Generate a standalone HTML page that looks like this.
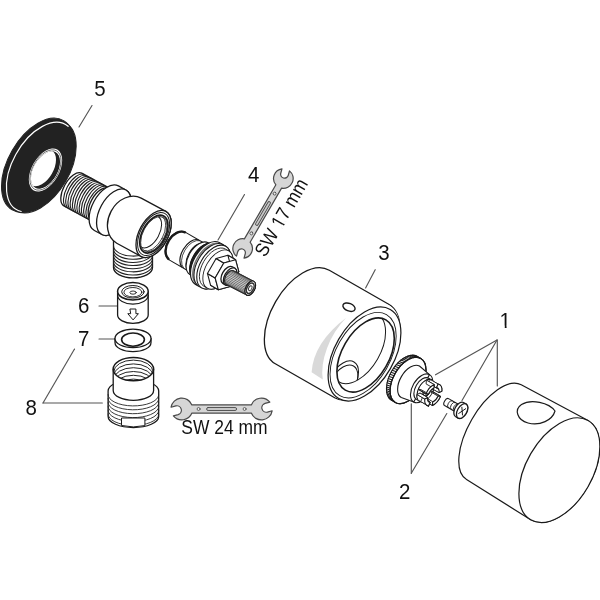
<!DOCTYPE html>
<html><head><meta charset="utf-8"><title>Exploded view</title>
<style>
html,body{margin:0;padding:0;background:#fff;}
body{width:600px;height:600px;overflow:hidden;}
svg{display:block;font-family:"Liberation Sans",Arial,sans-serif;}
svg text{fill:#111;}
svg{filter:grayscale(1);}
</style></head><body>
<svg width="600" height="600" viewBox="0 0 600 600" stroke-linecap="round" stroke-linejoin="round">
<rect width="600" height="600" fill="#fff"/>
<g transform="translate(100 95.5) scale(0.915 1)"><text font-size="22.4" text-anchor="middle" >5</text></g>
<line x1="92" y1="105.5" x2="79" y2="127" stroke="#555" stroke-width="1.15"/>
<g transform="translate(253.7 182.3) scale(0.915 1)"><text font-size="22.4" text-anchor="middle" >4</text></g>
<line x1="244.5" y1="194.5" x2="218" y2="240" stroke="#555" stroke-width="1.15"/>
<g transform="translate(384 260) scale(0.915 1)"><text font-size="22.4" text-anchor="middle" >3</text></g>
<line x1="375.2" y1="269.7" x2="365.6" y2="288" stroke="#555" stroke-width="1.15"/>
<g transform="translate(505.3 328) scale(0.915 1)"><text font-size="22.4" text-anchor="middle" >1</text><rect x="-4.88" y="-2.27" width="4.29" height="2.87" fill="#fff"/><rect x="1.39" y="-2.27" width="4.26" height="2.87" fill="#fff"/></g>
<line x1="497" y1="340" x2="435.5" y2="374.8" stroke="#555" stroke-width="1.15"/>
<line x1="497" y1="340" x2="462" y2="400.5" stroke="#555" stroke-width="1.15"/>
<line x1="497.3" y1="340" x2="497.3" y2="386" stroke="#555" stroke-width="1.15"/>
<g transform="translate(404.7 499.2) scale(0.915 1)"><text font-size="22.4" text-anchor="middle" >2</text></g>
<line x1="411.3" y1="473.3" x2="411.3" y2="403.8" stroke="#555" stroke-width="1.15"/>
<line x1="411.3" y1="473.3" x2="446.8" y2="413.5" stroke="#555" stroke-width="1.15"/>
<g transform="translate(83.6 313) scale(0.915 1)"><text font-size="22.4" text-anchor="middle" >6</text></g>
<line x1="99" y1="306" x2="117.5" y2="306" stroke="#555" stroke-width="1.15"/>
<g transform="translate(83.6 346.3) scale(0.915 1)"><text font-size="22.4" text-anchor="middle" >7</text></g>
<line x1="99" y1="339" x2="115" y2="339" stroke="#555" stroke-width="1.15"/>
<g transform="translate(31.3 414.5) scale(0.915 1)"><text font-size="22.4" text-anchor="middle" >8</text></g>
<line x1="43" y1="403" x2="102.3" y2="403" stroke="#555" stroke-width="1.15"/>
<line x1="43" y1="403" x2="74.5" y2="349" stroke="#555" stroke-width="1.15"/>
<ellipse cx="37.9" cy="165.25" rx="29.72" ry="51.5" transform="rotate(30 37.9 165.25)" fill="#222" stroke="#222" stroke-width="1" />
<ellipse cx="40.5" cy="166.75" rx="29.14" ry="50.5" transform="rotate(30 40.5 166.75)" fill="#222" stroke="#222" stroke-width="1" />
<path d="M68.13 126.32 A28.33 49.1 30 1 0 21.23 211.46 " fill="none" stroke="#fff" stroke-width="1.2"/>
<ellipse cx="45.5" cy="170" rx="13.62" ry="23.6" transform="rotate(30 45.5 170)" fill="#fff" stroke="none" stroke-width="0" />
<ellipse cx="45.5" cy="170" rx="12.75" ry="22.1" transform="rotate(30 45.5 170)" fill="none" stroke="#555" stroke-width="0.8" />
<clipPath id="hclip"><ellipse cx="45.5" cy="170" rx="11.89" ry="20.6" transform="rotate(30 45.5 170)"/></clipPath>
<g clip-path="url(#hclip)">
<ellipse cx="45.5" cy="170" rx="12.12" ry="21" transform="rotate(30 45.5 170)" fill="#222" stroke="none" stroke-width="0" />
<ellipse cx="41.86" cy="167.9" rx="11.54" ry="20" transform="rotate(30 41.86 167.9)" fill="#fff" stroke="none" stroke-width="0" />
</g>
<path d="M109.84 188.37 L81.69 173.15 A9.35 18.7 28.4 0 0 63.91 206.05 L92.05 221.27 A10.47 18.7 28.4 0 0 109.84 188.37 Z" fill="#fff" stroke="#1a1a1a" stroke-width="1.3" />
<ellipse cx="100.95" cy="204.82" rx="10.47" ry="18.7" transform="rotate(28.4 100.95 204.82)" fill="#fff" stroke="#1a1a1a" stroke-width="1.3" />
<path d="M84.17 174.5 A9.35 18.7 28.4 0 0 66.4 207.38 " fill="none" stroke="#222" stroke-width="1.15"/>
<path d="M86.42 175.72 A9.35 18.7 28.4 0 0 68.64 208.6 " fill="none" stroke="#222" stroke-width="1.15"/>
<path d="M88.66 176.93 A9.35 18.7 28.4 0 0 70.88 209.81 " fill="none" stroke="#222" stroke-width="1.15"/>
<path d="M90.9 178.14 A9.35 18.7 28.4 0 0 73.12 211.02 " fill="none" stroke="#222" stroke-width="1.15"/>
<path d="M93.15 179.35 A9.35 18.7 28.4 0 0 75.37 212.23 " fill="none" stroke="#222" stroke-width="1.15"/>
<path d="M95.39 180.57 A9.35 18.7 28.4 0 0 77.61 213.45 " fill="none" stroke="#222" stroke-width="1.15"/>
<path d="M97.63 181.78 A9.35 18.7 28.4 0 0 79.85 214.66 " fill="none" stroke="#222" stroke-width="1.15"/>
<path d="M99.87 182.99 A9.35 18.7 28.4 0 0 82.1 215.87 " fill="none" stroke="#222" stroke-width="1.15"/>
<path d="M102.12 184.21 A9.35 18.7 28.4 0 0 84.34 217.09 " fill="none" stroke="#222" stroke-width="1.15"/>
<path d="M104.36 185.42 A9.35 18.7 28.4 0 0 86.58 218.3 " fill="none" stroke="#222" stroke-width="1.15"/>
<path d="M106.6 186.63 A9.35 18.7 28.4 0 0 88.83 219.51 " fill="none" stroke="#222" stroke-width="1.15"/>
<path d="M125.91 189.99 L118.43 185.94 A14.17 25.3 28.4 0 0 94.37 230.46 L101.84 234.5 A14.17 25.3 28.4 0 0 125.91 189.99 Z" fill="#fff" stroke="#1a1a1a" stroke-width="1.3" />
<ellipse cx="113.88" cy="212.24" rx="14.17" ry="25.3" transform="rotate(28.4 113.88 212.24)" fill="#fff" stroke="#1a1a1a" stroke-width="1.3" />
<path d="M113.5 240 L113.5 267.6 A19.5 10.3 0 0 0 152.5 267.6 L152.5 240 Z" fill="#fff" stroke="#1a1a1a" stroke-width="1.3" />
<path d="M113.5 245.5 A19.5 10.3 0 0 0 152.5 246.1" fill="none" stroke="#222" stroke-width="1.05" />
<path d="M113.5 248.65 A19.5 10.3 0 0 0 152.5 249.25" fill="none" stroke="#222" stroke-width="1.05" />
<path d="M113.5 251.8 A19.5 10.3 0 0 0 152.5 252.4" fill="none" stroke="#222" stroke-width="1.05" />
<path d="M113.5 254.95 A19.5 10.3 0 0 0 152.5 255.54999999999998" fill="none" stroke="#222" stroke-width="1.05" />
<path d="M113.5 258.1 A19.5 10.3 0 0 0 152.5 258.70000000000005" fill="none" stroke="#222" stroke-width="1.05" />
<path d="M113.5 261.25 A19.5 10.3 0 0 0 152.5 261.85" fill="none" stroke="#222" stroke-width="1.05" />
<path d="M113.5 264.4 A19.5 10.3 0 0 0 152.5 265.0" fill="none" stroke="#222" stroke-width="1.05" />
<path d="M165.82 211.39 L141.19 198.08 A20.56 25.7 28.4 0 0 116.75 243.29 L141.38 256.61 A14.39 25.7 28.4 0 0 165.82 211.39 Z" fill="#fff" stroke="#1a1a1a" stroke-width="1.3" />
<ellipse cx="153.6" cy="234" rx="14.39" ry="25.7" transform="rotate(28.4 153.6 234)" fill="#fff" stroke="#1a1a1a" stroke-width="1.3" />
<ellipse cx="153.6" cy="234" rx="13.1" ry="23.4" transform="rotate(28.4 153.6 234)" fill="none" stroke="#1a1a1a" stroke-width="1" />
<ellipse cx="153.86" cy="234.14" rx="11.54" ry="20.6" transform="rotate(28.4 153.86 234.14)" fill="none" stroke="#1a1a1a" stroke-width="1.7" />
<ellipse cx="153.86" cy="234.14" rx="10.75" ry="19.2" transform="rotate(28.4 153.86 234.14)" fill="none" stroke="#1a1a1a" stroke-width="0.7" />
<clipPath id="bclip"><ellipse cx="153.86" cy="234.14" rx="10.75" ry="19.2" transform="rotate(28.4 153.86 234.14)"/></clipPath>
<g clip-path="url(#bclip)">
<ellipse cx="149.64" cy="231.86" rx="9.8" ry="17.5" transform="rotate(28.4 149.64 231.86)" fill="none" stroke="#1a1a1a" stroke-width="1" />
<ellipse cx="152.54" cy="233.43" rx="10.75" ry="19.2" transform="rotate(28.4 152.54 233.43)" fill="none" stroke="#1a1a1a" stroke-width="0.7" />
</g>
<path d="M205.25 243.74 L185.59 232.39 A10.88 16 30 0 0 169.59 260.11 L189.25 271.46 A9.23 16 30 0 0 205.25 243.74 Z" fill="#fff" stroke="#1a1a1a" stroke-width="1.1" />
<ellipse cx="197.25" cy="257.6" rx="9.23" ry="16" transform="rotate(30 197.25 257.6)" fill="#fff" stroke="#1a1a1a" stroke-width="1.1" />
<path d="M185 232.33 A10.74 15.8 30 0 0 168.37 258.89 " fill="none" stroke="#1a1a1a" stroke-width="2.4"/>
<path d="M198 239.74 A9.23 16 30 0 0 181.92 266.94 " fill="none" stroke="#1a1a1a" stroke-width="1.2"/>
<path d="M199.56 240.64 A9.23 16 30 0 0 183.48 267.84 " fill="none" stroke="#1a1a1a" stroke-width="0.8"/>
<rect x="202.05" y="245.01" width="6" height="2.8" rx="0.8" fill="#fff" stroke="#1a1a1a" stroke-width="1.1" transform="rotate(30 205.05 246.41)"/>
<rect x="187.94" y="268.62" width="6" height="2.8" rx="0.8" fill="#fff" stroke="#1a1a1a" stroke-width="1.1" transform="rotate(30 190.94 270.02)"/>
<path d="M211.17 244.5 L208.13 242.75 A10.56 18.3 30 0 0 189.83 274.45 L192.87 276.2 A10.56 18.3 30 0 0 211.17 244.5 Z" fill="#fff" stroke="#1a1a1a" stroke-width="1.1" />
<path d="M215.71 245.63 L213.11 244.13 A11.31 19.6 30 0 0 193.51 278.07 L196.11 279.57 A11.31 19.6 30 0 0 215.71 245.63 Z" fill="#fff" stroke="#1a1a1a" stroke-width="1.1" />
<path d="M213.22 244.59 A11.14 19.3 30 0 0 193.37 277.43 " fill="none" stroke="#1a1a1a" stroke-width="2.8"/>
<path d="M222.24 244.32 L219.21 242.57 A13.85 24 30 0 0 195.21 284.13 L198.24 285.88 A13.85 24 30 0 0 222.24 244.32 Z" fill="#fff" stroke="#1a1a1a" stroke-width="1.2" />
<path d="M219.08 243.67 A13.39 23.2 30 0 0 195.77 283.12 " fill="none" stroke="#777" stroke-width="1.6"/>
<path d="M225.71 246.32 L222.68 244.57 A13.85 24 30 0 0 198.68 286.13 L201.71 287.88 A13.85 24 30 0 0 225.71 246.32 Z" fill="#fff" stroke="#1a1a1a" stroke-width="1.1" />
<ellipse cx="213.71" cy="267.1" rx="13.85" ry="24" transform="rotate(30 213.71 267.1)" fill="#fff" stroke="#1a1a1a" stroke-width="1.1" />
<path d="M228.79 250.98 L225.32 248.98 A12.41 21.5 30 0 0 203.82 286.22 L207.29 288.22 A12.41 21.5 30 0 0 228.79 250.98 Z" fill="#fff" stroke="#1a1a1a" stroke-width="0.9" />
<ellipse cx="218.04" cy="269.6" rx="12.41" ry="21.5" transform="rotate(30 218.04 269.6)" fill="#fff" stroke="#1a1a1a" stroke-width="0.9" />
<path d="M222.41 282.11 L210.6 285.28 L218.31 289.73 L230.12 286.56Z" fill="#fff" stroke="#1a1a1a" stroke-width="1.1" />
<path d="M210.6 285.28 L207.44 273.47 L215.15 277.92 L218.31 289.73Z" fill="#fff" stroke="#1a1a1a" stroke-width="1.1" />
<path d="M207.44 273.47 L216.09 258.49 L223.8 262.94 L215.15 277.92Z" fill="#fff" stroke="#1a1a1a" stroke-width="1.1" />
<path d="M216.09 258.49 L227.9 255.32 L235.61 259.77 L223.8 262.94Z" fill="#fff" stroke="#1a1a1a" stroke-width="1.1" />
<path d="M227.9 255.32 L231.06 267.13 L238.77 271.58 L235.61 259.77Z" fill="#fff" stroke="#1a1a1a" stroke-width="1.1" />
<path d="M231.06 267.13 L222.41 282.11 L230.12 286.56 L238.77 271.58Z" fill="#fff" stroke="#1a1a1a" stroke-width="1.1" />
<path d="M230.12 286.56 L218.31 289.73 L215.15 277.92 L223.8 262.94 L235.61 259.77 L238.77 271.58Z" fill="#fff" stroke="#1a1a1a" stroke-width="1.1" />
<path d="M234.96 268.29 L232.36 266.79 A5.54 9.6 30 0 0 222.76 283.41 L225.36 284.91 A5.54 9.6 30 0 0 234.96 268.29 Z" fill="#fff" stroke="#1a1a1a" stroke-width="1.3" />
<ellipse cx="230.16" cy="276.6" rx="5.54" ry="9.6" transform="rotate(30 230.16 276.6)" fill="#fff" stroke="#1a1a1a" stroke-width="1.3" />
<path d="M253.81 281.37 L233.41 270.75 A4.44 7.7 27.5 0 0 226.3 284.41 L246.7 295.03 A4.44 7.7 27.5 0 0 253.81 281.37 Z" fill="#ddd" stroke="#1a1a1a" stroke-width="1.1" />
<ellipse cx="250.25" cy="288.2" rx="4.44" ry="7.7" transform="rotate(27.5 250.25 288.2)" fill="#fff" stroke="#1a1a1a" stroke-width="1.1" />
<line x1="225.9" y1="284.16" x2="246.31" y2="294.78" stroke="#333" stroke-width="0.65"/>
<line x1="225.25" y1="283.44" x2="245.65" y2="294.06" stroke="#333" stroke-width="0.65"/>
<line x1="224.8" y1="282.47" x2="245.2" y2="293.09" stroke="#333" stroke-width="0.65"/>
<line x1="224.57" y1="281.28" x2="244.97" y2="291.9" stroke="#333" stroke-width="0.65"/>
<line x1="224.57" y1="279.93" x2="244.98" y2="290.55" stroke="#333" stroke-width="0.65"/>
<line x1="224.81" y1="278.48" x2="245.21" y2="289.1" stroke="#333" stroke-width="0.65"/>
<line x1="225.26" y1="276.99" x2="245.66" y2="287.61" stroke="#333" stroke-width="0.65"/>
<line x1="225.91" y1="275.53" x2="246.31" y2="286.15" stroke="#333" stroke-width="0.65"/>
<line x1="226.74" y1="274.15" x2="247.14" y2="284.77" stroke="#333" stroke-width="0.65"/>
<line x1="227.7" y1="272.93" x2="248.1" y2="283.55" stroke="#333" stroke-width="0.65"/>
<line x1="228.75" y1="271.91" x2="249.15" y2="282.53" stroke="#333" stroke-width="0.65"/>
<line x1="229.86" y1="271.13" x2="250.26" y2="281.75" stroke="#333" stroke-width="0.65"/>
<line x1="230.96" y1="270.64" x2="251.36" y2="281.26" stroke="#333" stroke-width="0.65"/>
<line x1="232.02" y1="270.45" x2="252.42" y2="281.07" stroke="#333" stroke-width="0.65"/>
<line x1="232.98" y1="270.57" x2="253.38" y2="281.19" stroke="#333" stroke-width="0.65"/>
<ellipse cx="250.25" cy="288.2" rx="4.44" ry="7.7" transform="rotate(27.5 250.25 288.2)" fill="#fff" stroke="#1a1a1a" stroke-width="1.1" />
<ellipse cx="250.25" cy="288.2" rx="3.23" ry="5.6" transform="rotate(27.5 250.25 288.2)" fill="#fff" stroke="#333" stroke-width="1.6" />
<ellipse cx="250.25" cy="288.2" rx="1.5" ry="2.6" transform="rotate(27.5 250.25 288.2)" fill="#fff" stroke="#333" stroke-width="0.9" />
<path d="M117.60000000000001 291.3 L117.60000000000001 315 A15.3 8.3 0 0 0 148.20000000000002 315 L148.20000000000002 291.3 Z" fill="#fff" stroke="#1a1a1a" stroke-width="1.3" />
<path d="M117.6 295.3 A15.3 8.8 0 0 0 148.2 295.3" fill="none" stroke="#1a1a1a" stroke-width="1.1" />
<ellipse cx="132.9" cy="291.3" rx="15.3" ry="8.8" fill="#fff" stroke="#1a1a1a" stroke-width="1.5"/>
<ellipse cx="132.9" cy="291.8" rx="11.2" ry="6.3" fill="#fff" stroke="#1a1a1a" stroke-width="1.0"/>
<ellipse cx="132.9" cy="292.2" rx="9" ry="4.7" fill="#fff" stroke="#1a1a1a" stroke-width="0.9"/>
<ellipse cx="133.1" cy="292.6" rx="3.2" ry="1.6" fill="#fff" stroke="#1a1a1a" stroke-width="0.9"/>
<path d="M130.3 309 h5.6 v4.7 h2.5 l-5.3 6.2 l-5.3 -6.2 h2.5 Z" fill="none" stroke="#1a1a1a" stroke-width="1.0" />
<path d="M115 338.4 v4 A18 9.3 0 0 0 151 342.4 v-4 Z" fill="#fff" stroke="#1a1a1a" stroke-width="1.3" />
<ellipse cx="133" cy="338.4" rx="18" ry="9.3" fill="#fff" stroke="#1a1a1a" stroke-width="1.3"/>
<ellipse cx="133" cy="339.6" rx="11.4" ry="6.6" fill="#fff" stroke="#1a1a1a" stroke-width="1.6"/>
<path d="M108.10000000000001 391 L108.10000000000001 416.5 A25.3 11 0 0 0 158.70000000000002 416.5 L158.70000000000002 391 A25.3 11 0 0 0 108.10000000000001 391 Z" fill="#fff" stroke="#1a1a1a" stroke-width="1.3" />
<path d="M108.1 394.5 A25.3 11 0 0 0 158.7 395.3" fill="none" stroke="#222" stroke-width="0.9" />
<path d="M108.1 398.4 A25.3 11 0 0 0 158.7 399.2" fill="none" stroke="#222" stroke-width="0.9" />
<path d="M108.1 402.3 A25.3 11 0 0 0 158.7 403.1" fill="none" stroke="#222" stroke-width="0.9" />
<path d="M108.1 406.2 A25.3 11 0 0 0 158.7 407" fill="none" stroke="#222" stroke-width="0.9" />
<path d="M108.1 410.1 A25.3 11 0 0 0 158.7 410.9" fill="none" stroke="#222" stroke-width="0.9" />
<path d="M108.1 414 A25.3 11 0 0 0 158.7 414.8" fill="none" stroke="#222" stroke-width="0.9" />
<path d="M121.9 418 L144.9 418 L144.9 425.6 Q133.4 428.3 121.9 425.6 Z" fill="#fff" stroke="#1a1a1a" stroke-width="1"/>
<path d="M113.2 369.1 L113.2 390.5 A20.2 9.8 0 0 0 153.6 390.5 L153.6 369.1 Z" fill="#fff" stroke="#1a1a1a" stroke-width="1.3" />
<ellipse cx="133.4" cy="369.1" rx="20.2" ry="11.7" fill="#fff" stroke="#1a1a1a" stroke-width="1.5"/>
<clipPath id="nclip"><ellipse cx="133.4" cy="369.1" rx="19.6" ry="11.1"/></clipPath>
<g clip-path="url(#nclip)">
<path d="M113.8 371.4 A19.6 11.3 0 0 1 153 371.4" fill="none" stroke="#222" stroke-width="1.0" />
<path d="M113.8 375.2 A19.6 11.3 0 0 1 153 375.2" fill="none" stroke="#222" stroke-width="1.0" />
<path d="M113.8 379 A19.6 11.3 0 0 1 153 379" fill="none" stroke="#222" stroke-width="1.0" />
<path d="M113.8 382.8 A19.6 11.3 0 0 1 153 382.8" fill="none" stroke="#222" stroke-width="1.0" />
<path d="M113.8 386.6 A19.6 11.3 0 0 1 153 386.6" fill="none" stroke="#222" stroke-width="1.0" />
<path d="M113.8 390.4 A19.6 11.3 0 0 1 153 390.4" fill="none" stroke="#222" stroke-width="1.0" />
</g>
<g transform="translate(221.6 409) rotate(0)" stroke="#4a4a4a" stroke-width="1.2" fill="#d6d6d6">
<path d="M0 -4.1 L-29.7 -4.1 A10.9 10.9 0 0 0 -50.55 -1.78 L-45.79 -3.05 A4.5 4.5 0 0 1 -43.46 5.64 L-48.22 6.92 A10.9 10.9 0 0 0 -29.7 4.1 L29.7 4.1 A10.9 10.9 0 0 0 50.55 1.78 L45.79 3.05 A4.5 4.5 0 0 1 43.46 -5.64 L48.22 -6.92 A10.9 10.9 0 0 0 29.7 -4.1 Z"/>
<rect x="-15" y="-1.5" width="30" height="3.0" rx="1.5" fill="#c8c8c8" stroke-width="0.9"/>
<circle cx="-23" cy="0" r="1.5" fill="#eee" stroke-width="0.8"/>
<circle cx="23" cy="0" r="1.5" fill="#eee" stroke-width="0.8"/>
</g>
<g transform="translate(181.3 433.7) scale(0.9 1)"><text font-size="19.4" text-anchor="start" >SW 24 mm</text></g>
<g transform="translate(263.0 213.5) rotate(-59.8)" stroke="#4a4a4a" stroke-width="1.2" fill="#d6d6d6">
<path d="M0 -3.3 L-31.27 -3.3 A9.8 9.8 0 0 0 -50.19 -1.44 L-45.76 -2.63 A3.9 3.9 0 0 1 -43.74 4.91 L-48.17 6.09 A9.8 9.8 0 0 0 -31.27 3.3 L31.27 3.3 A9.8 9.8 0 0 0 50.19 1.44 L45.76 2.63 A3.9 3.9 0 0 1 43.74 -4.91 L48.17 -6.09 A9.8 9.8 0 0 0 31.27 -3.3 Z"/>
<rect x="-13.5" y="-1.3" width="27.0" height="2.6" rx="1.3" fill="#c8c8c8" stroke-width="0.9"/>
<circle cx="-23" cy="0" r="1.5" fill="#eee" stroke-width="0.8"/>
<circle cx="23" cy="0" r="1.5" fill="#eee" stroke-width="0.8"/>
</g>
<g transform="translate(265.3 258) rotate(-60) scale(0.9 1)"><text font-size="19.4" text-anchor="start" >SW 17 mm</text><rect x="37.81" y="-2.05" width="3.72" height="2.65" fill="#fff"/><rect x="43.24" y="-2.05" width="3.69" height="2.65" fill="#fff"/></g>
<path d="M388.7 304.23 L329.3 270.23 A30.78 54 30 0 0 275.3 363.77 L334.7 397.77 A31.16 54 30 0 0 388.7 304.23 Z" fill="#fff" stroke="#1a1a1a" stroke-width="1.3" />
<ellipse cx="362.74" cy="351.6" rx="30.7" ry="53.2" transform="rotate(30 362.74 351.6)" fill="#fff" stroke="none" stroke-width="0" />
<ellipse cx="364.5" cy="354" rx="29.72" ry="51.5" transform="rotate(30 364.5 354)" fill="#fff" stroke="#1a1a1a" stroke-width="1.2" />
<path d="M346.11 317.64 A31.16 54 30 0 0 322.81 379.62 L311.6 372.2 Q313.5 342.5 346.11 317.64 Z" fill="#d9d9d9" stroke="none" stroke-width="0" />
<ellipse cx="349" cy="307.2" rx="6.4" ry="3.8" fill="#fff" stroke="#1a1a1a" stroke-width="1.4" transform="rotate(22 349 307.2)"/>
<ellipse cx="363.1" cy="355.2" rx="27" ry="46.8" transform="rotate(30 363.1 355.2)" fill="none" stroke="#1a1a1a" stroke-width="0.9" />
<ellipse cx="365.6" cy="355" rx="23.43" ry="40.6" transform="rotate(30 365.6 355)" fill="none" stroke="#1a1a1a" stroke-width="1.6" />
<clipPath id="sclip"><ellipse cx="365.6" cy="355" rx="23.2" ry="40.2" transform="rotate(30 365.6 355)"/></clipPath>
<clipPath id="sclip2"><ellipse cx="358" cy="348" rx="22.5" ry="39" transform="rotate(30 358 348)"/></clipPath>
<g clip-path="url(#sclip)">
<ellipse cx="358" cy="348" rx="22.5" ry="39" transform="rotate(30 358 348)" fill="none" stroke="#1a1a1a" stroke-width="1.0" />
<g clip-path="url(#sclip2)">
<ellipse cx="343" cy="381" rx="12.69" ry="22" transform="rotate(30 343 381)" fill="none" stroke="#1a1a1a" stroke-width="1.0" />
<ellipse cx="343" cy="384.2" rx="12.12" ry="21" transform="rotate(30 343 384.2)" fill="none" stroke="#1a1a1a" stroke-width="1.0" />
</g></g>
<path d="M420.77 358.37 L417.05 356.22 A14.71 25.5 30 0 0 391.55 400.38 L395.27 402.53 A14.71 25.5 30 0 0 420.77 358.37 Z" fill="#fff" stroke="#1a1a1a" stroke-width="1.1" />
<ellipse cx="408.02" cy="380.45" rx="14.71" ry="25.5" transform="rotate(30 408.02 380.45)" fill="#fff" stroke="#1a1a1a" stroke-width="1.1" />
<path d="M391.22 399.94 L394.63 401.63" fill="none" stroke="#1a1a1a" stroke-width="1.05" />
<path d="M390.15 399.11 L393.61 400.73" fill="none" stroke="#1a1a1a" stroke-width="1.05" />
<path d="M389.2 398.09 L392.72 399.66" fill="none" stroke="#1a1a1a" stroke-width="1.05" />
<path d="M388.38 396.91 L391.95 398.42" fill="none" stroke="#1a1a1a" stroke-width="1.05" />
<path d="M387.69 395.56 L391.33 397.04" fill="none" stroke="#1a1a1a" stroke-width="1.05" />
<path d="M387.15 394.07 L390.84 395.5" fill="none" stroke="#1a1a1a" stroke-width="1.05" />
<path d="M386.76 392.45 L390.51 393.84" fill="none" stroke="#1a1a1a" stroke-width="1.05" />
<path d="M386.51 390.7 L390.32 392.07" fill="none" stroke="#1a1a1a" stroke-width="1.05" />
<path d="M386.42 388.85 L390.29 390.2" fill="none" stroke="#1a1a1a" stroke-width="1.05" />
<path d="M386.48 386.9 L390.4 388.24" fill="none" stroke="#1a1a1a" stroke-width="1.05" />
<path d="M386.69 384.89 L390.67 386.22" fill="none" stroke="#1a1a1a" stroke-width="1.05" />
<path d="M387.05 382.82 L391.09 384.14" fill="none" stroke="#1a1a1a" stroke-width="1.05" />
<path d="M387.56 380.7 L391.65 382.04" fill="none" stroke="#1a1a1a" stroke-width="1.05" />
<path d="M388.21 378.57 L392.35 379.92" fill="none" stroke="#1a1a1a" stroke-width="1.05" />
<path d="M389.01 376.44 L393.18 377.81" fill="none" stroke="#1a1a1a" stroke-width="1.05" />
<path d="M389.93 374.32 L394.14 375.72" fill="none" stroke="#1a1a1a" stroke-width="1.05" />
<path d="M390.97 372.24 L395.22 373.67" fill="none" stroke="#1a1a1a" stroke-width="1.05" />
<path d="M392.13 370.2 L396.41 371.67" fill="none" stroke="#1a1a1a" stroke-width="1.05" />
<path d="M393.39 368.24 L397.7 369.76" fill="none" stroke="#1a1a1a" stroke-width="1.05" />
<path d="M394.75 366.36 L399.08 367.93" fill="none" stroke="#1a1a1a" stroke-width="1.05" />
<path d="M396.19 364.59 L400.53 366.21" fill="none" stroke="#1a1a1a" stroke-width="1.05" />
<path d="M397.69 362.93 L402.05 364.61" fill="none" stroke="#1a1a1a" stroke-width="1.05" />
<path d="M399.26 361.4 L403.62 363.15" fill="none" stroke="#1a1a1a" stroke-width="1.05" />
<path d="M400.86 360.02 L405.22 361.84" fill="none" stroke="#1a1a1a" stroke-width="1.05" />
<path d="M402.5 358.8 L406.85 360.68" fill="none" stroke="#1a1a1a" stroke-width="1.05" />
<path d="M404.15 357.74 L408.49 359.7" fill="none" stroke="#1a1a1a" stroke-width="1.05" />
<path d="M405.8 356.85 L410.13 358.89" fill="none" stroke="#1a1a1a" stroke-width="1.05" />
<path d="M407.44 356.15 L411.75 358.27" fill="none" stroke="#1a1a1a" stroke-width="1.05" />
<path d="M409.05 355.64 L413.33 357.83" fill="none" stroke="#1a1a1a" stroke-width="1.05" />
<path d="M410.63 355.33 L414.88 357.59" fill="none" stroke="#1a1a1a" stroke-width="1.05" />
<path d="M412.14 355.21 L416.36 357.55" fill="none" stroke="#1a1a1a" stroke-width="1.05" />
<path d="M413.6 355.28 L417.77 357.7" fill="none" stroke="#1a1a1a" stroke-width="1.05" />
<path d="M414.97 355.56 L419.1 358.04" fill="none" stroke="#1a1a1a" stroke-width="1.05" />
<path d="M416.25 356.03 L420.33 358.58" fill="none" stroke="#1a1a1a" stroke-width="1.05" />
<ellipse cx="408.02" cy="380.45" rx="14.6" ry="25.3" transform="rotate(30 408.02 380.45)" fill="none" stroke="#1a1a1a" stroke-width="1.1" />
<path d="M429.52 374.62 L419.46 366.04 A10.5 18.2 30 0 0 401.26 397.56 L413.72 401.98 Z" fill="#fff" stroke="#1a1a1a" stroke-width="1.1" />
<ellipse cx="421.62" cy="388.3" rx="9.12" ry="15.8" transform="rotate(30 421.62 388.3)" fill="none" stroke="#1a1a1a" stroke-width="1.1" />
<path d="M431.62 379.98 L428.59 378.23 A7.04 12.2 30 0 0 416.39 399.37 L419.42 401.12 A7.04 12.2 30 0 0 431.62 379.98 Z" fill="#fff" stroke="#1a1a1a" stroke-width="1.1" />
<ellipse cx="425.52" cy="390.55" rx="7.04" ry="12.2" transform="rotate(30 425.52 390.55)" fill="#fff" stroke="#1a1a1a" stroke-width="1.1" />
<ellipse cx="426.82" cy="391.3" rx="3" ry="5.2" transform="rotate(30 426.82 391.3)" fill="none" stroke="#1a1a1a" stroke-width="1.6" />
<ellipse cx="426.82" cy="391.3" rx="1.73" ry="3" transform="rotate(30 426.82 391.3)" fill="none" stroke="#1a1a1a" stroke-width="0.9" />
<path d="M430.32 391.52 A4.73 8.2 30 0 1 424.91 397.56 L432.7 402.06 A4.73 8.2 30 0 0 438.12 396.02 Z" fill="#fff" stroke="#1a1a1a" stroke-width="0.9" />
<path d="M432.67 391.99 A7.04 12.2 30 0 1 424.61 400.98 L432.41 405.48 A7.04 12.2 30 0 0 440.46 396.49 Z" fill="#fff" stroke="#1a1a1a" stroke-width="1.0" />
<path d="M430.32 391.52 L432.67 391.99 L440.46 396.49 L438.12 396.02Z" fill="#fff" stroke="#1a1a1a" stroke-width="0.9" />
<path d="M424.91 397.56 L424.61 400.98 L432.41 405.48 L432.7 402.06Z" fill="#fff" stroke="#1a1a1a" stroke-width="0.9" />
<path d="M440.46 396.49 A7.04 12.2 30 0 1 432.41 405.48 L432.7 402.06 A4.73 8.2 30 0 0 438.12 396.02 Z" fill="#fff" stroke="#1a1a1a" stroke-width="1.1" />
<path d="M428.76 383.13 A4.73 8.2 30 0 1 431.28 387.92 L439.08 392.42 A4.73 8.2 30 0 0 436.55 387.63 Z" fill="#fff" stroke="#1a1a1a" stroke-width="0.9" />
<path d="M430.34 379.51 A7.04 12.2 30 0 1 434.09 386.64 L441.89 391.14 A7.04 12.2 30 0 0 438.14 384.01 Z" fill="#fff" stroke="#1a1a1a" stroke-width="1.0" />
<path d="M428.76 383.13 L430.34 379.51 L438.14 384.01 L436.55 387.63Z" fill="#fff" stroke="#1a1a1a" stroke-width="0.9" />
<path d="M431.28 387.92 L434.09 386.64 L441.89 391.14 L439.08 392.42Z" fill="#fff" stroke="#1a1a1a" stroke-width="0.9" />
<path d="M438.14 384.01 A7.04 12.2 30 0 1 441.89 391.14 L439.08 392.42 A4.73 8.2 30 0 0 436.55 387.63 Z" fill="#fff" stroke="#1a1a1a" stroke-width="1.1" />
<path d="M422.27 397.97 A4.73 8.2 30 0 1 419.75 393.18 L427.55 397.68 A4.73 8.2 30 0 0 430.07 402.47 Z" fill="#fff" stroke="#1a1a1a" stroke-width="0.9" />
<path d="M420.69 401.59 A7.04 12.2 30 0 1 416.94 394.46 L424.74 398.96 A7.04 12.2 30 0 0 428.49 406.09 Z" fill="#fff" stroke="#1a1a1a" stroke-width="1.0" />
<path d="M422.27 397.97 L420.69 401.59 L428.49 406.09 L430.07 402.47Z" fill="#fff" stroke="#1a1a1a" stroke-width="0.9" />
<path d="M419.75 393.18 L416.94 394.46 L424.74 398.96 L427.55 397.68Z" fill="#fff" stroke="#1a1a1a" stroke-width="0.9" />
<path d="M428.49 406.09 A7.04 12.2 30 0 1 424.74 398.96 L427.55 397.68 A4.73 8.2 30 0 0 430.07 402.47 Z" fill="#fff" stroke="#1a1a1a" stroke-width="1.1" />
<path d="M420.71 389.58 A4.73 8.2 30 0 1 426.13 383.54 L433.92 388.04 A4.73 8.2 30 0 0 428.51 394.08 Z" fill="#fff" stroke="#1a1a1a" stroke-width="0.9" />
<path d="M418.37 389.11 A7.04 12.2 30 0 1 426.42 380.12 L434.22 384.62 A7.04 12.2 30 0 0 426.16 393.61 Z" fill="#fff" stroke="#1a1a1a" stroke-width="1.0" />
<path d="M420.71 389.58 L418.37 389.11 L426.16 393.61 L428.51 394.08Z" fill="#fff" stroke="#1a1a1a" stroke-width="0.9" />
<path d="M426.13 383.54 L426.42 380.12 L434.22 384.62 L433.92 388.04Z" fill="#fff" stroke="#1a1a1a" stroke-width="0.9" />
<path d="M426.16 393.61 A7.04 12.2 30 0 1 434.22 384.62 L433.92 388.04 A4.73 8.2 30 0 0 428.51 394.08 Z" fill="#fff" stroke="#1a1a1a" stroke-width="1.1" />
<path d="M461.4 406.04 L448.58 398.64 A2.31 4 30 0 0 444.58 405.56 L457.4 412.96 A2.31 4 30 0 0 461.4 406.04 Z" fill="#fff" stroke="#1a1a1a" stroke-width="1.1" />
<ellipse cx="459.4" cy="409.5" rx="2.31" ry="4" transform="rotate(30 459.4 409.5)" fill="#fff" stroke="#1a1a1a" stroke-width="1.1" />
<path d="M452.31 400.79 A2.31 4 30 0 0 448.31 407.71 " fill="none" stroke="#1a1a1a" stroke-width="0.9"/>
<path d="M455.16 402.44 A2.31 4 30 0 0 451.16 409.36 " fill="none" stroke="#1a1a1a" stroke-width="0.9"/>
<path d="M458.02 404.09 A2.31 4 30 0 0 454.02 411.01 " fill="none" stroke="#1a1a1a" stroke-width="0.9"/>
<path d="M466.22 404.09 L463.45 402.49 A4.67 8.1 30 0 0 455.35 416.51 L458.12 418.11 A4.67 8.1 30 0 0 466.22 404.09 Z" fill="#fff" stroke="#1a1a1a" stroke-width="1.3" />
<ellipse cx="462.17" cy="411.1" rx="4.67" ry="8.1" transform="rotate(30 462.17 411.1)" fill="#fff" stroke="#1a1a1a" stroke-width="1.3" />
<path d="M462.48 414.99 L461.86 407.21" fill="none" stroke="#1a1a1a" stroke-width="1.0" />
<path d="M458.65 413.49 L465.69 408.71" fill="none" stroke="#1a1a1a" stroke-width="1.0" />
<path d="M588.05 420.58 L521.25 384.83 A25.71 54.7 30 0 0 466.55 479.57 L530.75 519.82 A33.06 57.3 30 0 0 588.05 420.58 Z" fill="#fff" stroke="#1a1a1a" stroke-width="1.2" />
<ellipse cx="559.4" cy="470.2" rx="33.06" ry="57.3" transform="rotate(30 559.4 470.2)" fill="#fff" stroke="#1a1a1a" stroke-width="1.2" />
<path d="M555 411 C549 402.5 531 398.5 521.5 404.5 C514 409.5 517 420 528 423 C540 426.3 552.5 420 555 411 Z" fill="#fff" stroke="#1a1a1a" stroke-width="1.2" />
</svg>
</body></html>
